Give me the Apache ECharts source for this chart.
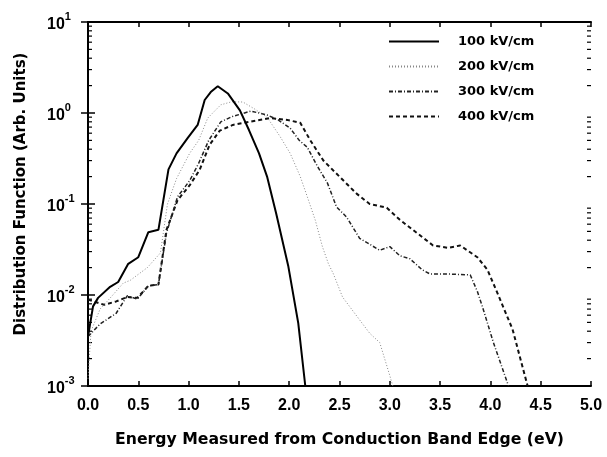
<!DOCTYPE html>
<html>
<head>
<meta charset="utf-8">
<script src="https://cdn.jsdelivr.net/npm/echarts@6/dist/echarts.min.js"></script>
<style>
html,body{margin:0;padding:0;background:#fff;}
#chart{width:607px;height:457px;}
</style>
</head>
<body>
<div id="chart"></div>
<script>
const seriesNames = ['100 kV/cm', '200 kV/cm', '300 kV/cm', '400 kV/cm'];
const xTickLabels = ['0.0','0.5','1.0','1.5','2.0','2.5','3.0','3.5','4.0','4.5','5.0'];

const energy100 = [0, 0.05, 0.1, 0.22, 0.3, 0.4, 0.5, 0.6, 0.7, 0.8, 0.88, 0.99, 1.09, 1.16, 1.22, 1.29, 1.39, 1.51, 1.6, 1.7, 1.78, 1.87, 1.99, 2.09, 2.16];
const values100 = [0.0035, 0.0075, 0.0093, 0.0123, 0.0139, 0.022, 0.026, 0.049, 0.052, 0.24, 0.36, 0.53, 0.74, 1.39, 1.7, 1.97, 1.64, 1.07, 0.65, 0.36, 0.2, 0.079, 0.021, 0.0049, 0.001];

const energy200 = [0, 0.03, 0.12, 0.24, 0.35, 0.42, 0.59, 0.72, 0.79, 0.88, 1.01, 1.1, 1.19, 1.32, 1.43, 1.54, 1.66, 1.78, 1.91, 2.01, 2.11, 2.18, 2.26, 2.33, 2.39, 2.44, 2.53, 2.68, 2.8, 2.9, 3.0, 3.03];
const values200 = [0.0012, 0.004, 0.007, 0.0098, 0.0135, 0.0145, 0.02, 0.029, 0.1, 0.19, 0.36, 0.5, 0.88, 1.23, 1.33, 1.32, 1.1, 0.9, 0.55, 0.36, 0.2, 0.12, 0.066, 0.034, 0.022, 0.017, 0.0095, 0.0057, 0.0038, 0.003, 0.0013, 0.001];

const energy300 = [0, 0.12, 0.28, 0.39, 0.49, 0.6, 0.7, 0.78, 0.89, 1.01, 1.1, 1.2, 1.32, 1.43, 1.62, 1.78, 1.89, 2.01, 2.1, 2.18, 2.28, 2.38, 2.47, 2.57, 2.7, 2.9, 3.0, 3.1, 3.2, 3.32, 3.4, 3.58, 3.8, 3.87, 3.93, 4.03, 4.1, 4.18];
const values300 = [0.0035, 0.0048, 0.0063, 0.0098, 0.009, 0.0126, 0.013, 0.048, 0.12, 0.18, 0.28, 0.5, 0.8, 0.91, 1.05, 0.95, 0.84, 0.68, 0.5, 0.42, 0.26, 0.17, 0.093, 0.072, 0.042, 0.031, 0.034, 0.027, 0.025, 0.019, 0.017, 0.017, 0.0166, 0.011, 0.0069, 0.003, 0.0018, 0.001];

const energy400 = [0, 0.16, 0.28, 0.39, 0.49, 0.6, 0.7, 0.78, 0.89, 1.01, 1.11, 1.21, 1.31, 1.44, 1.61, 1.81, 1.98, 2.11, 2.21, 2.34, 2.5, 2.67, 2.8, 2.97, 3.1, 3.27, 3.43, 3.58, 3.7, 3.87, 3.97, 4.07, 4.22, 4.37];
const values400 = [0.0089, 0.0078, 0.0085, 0.0095, 0.0093, 0.0126, 0.013, 0.052, 0.11, 0.16, 0.237, 0.45, 0.64, 0.74, 0.8, 0.88, 0.84, 0.78, 0.5, 0.3, 0.2, 0.13, 0.1, 0.091, 0.067, 0.048, 0.035, 0.033, 0.035, 0.026, 0.019, 0.0105, 0.0042, 0.001];

const pairs = (xs, ys) => xs.map((x, i) => [x, ys[i]]);
const FONT = '"Liberation Sans", Arial, sans-serif';
const WIDE = '"DejaVu Sans", sans-serif';

const chart = echarts.init(document.getElementById('chart'), null, {renderer: 'canvas'});

const lineStyles = [
  {color: '#000', width: 2, type: 'solid'},
  {color: '#888', width: 1, type: [1, 2]},
  {color: '#222', width: 1.5, type: [4, 2, 1, 2]},
  {color: '#111', width: 2, type: [4, 3]}
];
const dataSets = [pairs(energy100, values100), pairs(energy200, values200), pairs(energy300, values300), pairs(energy400, values400)];

const option = {
  animation: false,
  backgroundColor: '#fff',
  grid: {left: 88, right: 16, top: 22, bottom: 71},
  legend: {
    orient: 'vertical',
    left: 388,
    top: 35,
    padding: 0,
    itemWidth: 50,
    itemHeight: 14,
    itemGap: 12,
    data: seriesNames,
    itemStyle: {opacity: 0},
    textStyle: {fontFamily: WIDE, fontWeight: 'bold', fontSize: 13, color: '#000', padding: [0, 0, 0, 14]}
  },
  xAxis: [{
    type: 'value', min: 0, max: 5, interval: 0.5,
    name: 'Energy Measured from Conduction Band Edge (eV)',
    nameLocation: 'middle', nameGap: 46,
    nameTextStyle: {fontFamily: WIDE, fontWeight: 'bold', fontSize: 15.7, color: '#000'},
    axisLine: {lineStyle: {color: '#000', width: 2}},
    axisTick: {inside: true, length: 5, lineStyle: {color: '#000', width: 1.5}},
    axisLabel: {margin: 12, fontFamily: FONT, fontWeight: 'bold', fontSize: 16, color: '#000',
      formatter: v => xTickLabels[Math.round(v / 0.5)]},
    splitLine: {show: false}
  }, {
    type: 'value', min: 0, max: 5, interval: 0.5, position: 'top',
    axisLine: {lineStyle: {color: '#000', width: 2}},
    axisTick: {inside: true, length: 5, lineStyle: {color: '#000', width: 1.5}},
    axisLabel: {show: false},
    splitLine: {show: false}
  }],
  yAxis: [{
    type: 'log', logBase: 10, min: 0.001, max: 10,
    name: 'Distribution Function (Arb. Units)',
    nameLocation: 'middle', nameGap: 59, nameRotate: 90,
    nameTextStyle: {fontFamily: WIDE, fontWeight: 'bold', fontSize: 15, color: '#000', padding: [0, 0, 0, 20]},
    axisLine: {lineStyle: {color: '#000', width: 2}},
    axisTick: {inside: true, length: 7, lineStyle: {color: '#000', width: 1.5}},
    axisLabel: {
      margin: 41, align: 'left',
      formatter: v => '{b|10}{s|' + Math.round(Math.log10(v)) + '}',
      rich: {
        b: {fontFamily: FONT, fontWeight: 'bold', fontSize: 16, color: '#000', lineHeight: 22, verticalAlign: 'bottom'},
        s: {fontFamily: FONT, fontWeight: 'bold', fontSize: 11, color: '#000', lineHeight: 22, verticalAlign: 'top'}
      }
    },
    splitLine: {show: false}
  }, {
    type: 'log', logBase: 10, min: 0.001, max: 10, position: 'right',
    axisLine: {lineStyle: {color: '#000', width: 2}},
    axisTick: {inside: true, length: 7, lineStyle: {color: '#000', width: 1.5}},
    axisLabel: {show: false},
    splitLine: {show: false}
  }],
  series: seriesNames.map((name, i) => ({
    name: name,
    type: 'line',
    xAxisIndex: 0, yAxisIndex: 0,
    symbol: 'none',
    smooth: false,
    data: dataSets[i],
    lineStyle: lineStyles[i],
    itemStyle: {color: lineStyles[i].color},
    z: 4 - i
  }))
};

chart.setOption(option);

// minor log ticks (2..9 x 10^k) positioned through the axis scale
const graphics = [];
const xL = chart.convertToPixel({xAxisIndex: 0}, 0);
const xR = chart.convertToPixel({xAxisIndex: 0}, 5);
for (let k = -3; k < 1; k++) {
  for (let m = 2; m <= 9; m++) {
    const y = chart.convertToPixel({yAxisIndex: 0}, m * Math.pow(10, k));
    graphics.push({type: 'line', shape: {x1: xL, y1: y, x2: xL + 4, y2: y}, style: {stroke: '#000', lineWidth: 1.2}, silent: true});
    graphics.push({type: 'line', shape: {x1: xR, y1: y, x2: xR - 4, y2: y}, style: {stroke: '#000', lineWidth: 1.2}, silent: true});
  }
}
chart.setOption({graphic: graphics});
</script>
</body>
</html>
